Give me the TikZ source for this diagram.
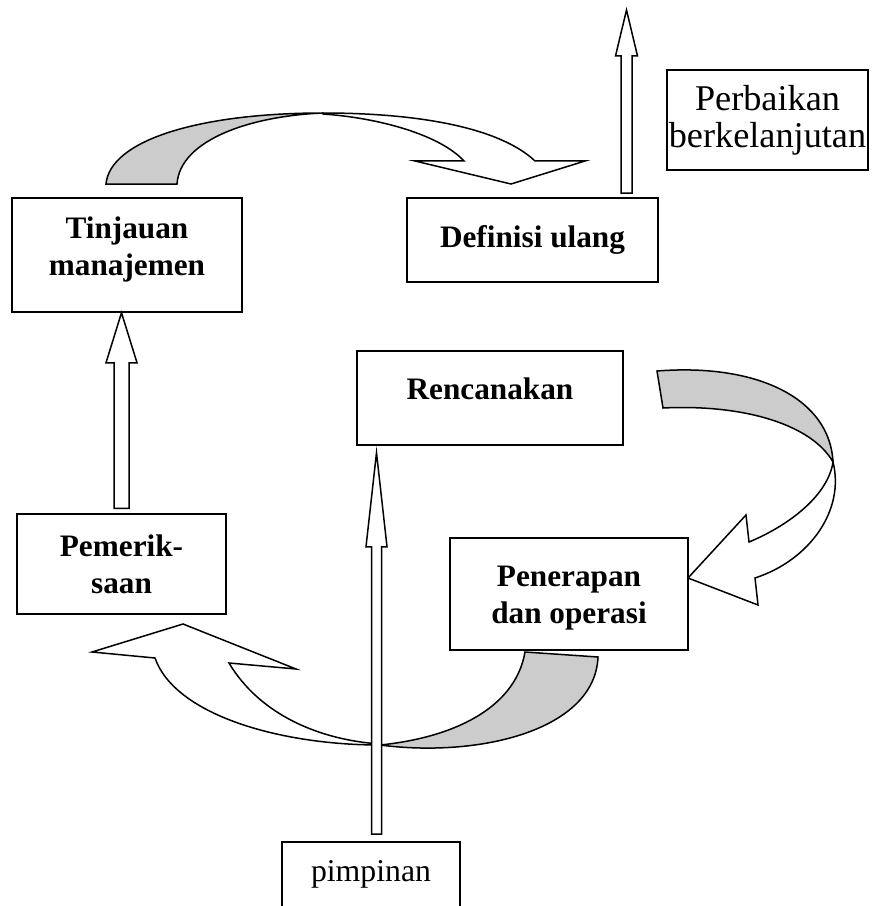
\documentclass[tikz,border=0pt]{standalone}
\usepackage{fontspec}
\setmainfont{Liberation Serif}
\usetikzlibrary{calc}
\definecolor{ribbon}{RGB}{204,204,204}
\begin{document}
\begin{tikzpicture}[x=0.4pt,y=-0.4pt, line width=0.6pt,
  box/.style={draw, rectangle, inner sep=0pt},
  bt/.style={font=\bfseries\fontsize{12.5}{14.8}\selectfont, align=center},
  rt/.style={font=\fontsize{14.5}{14.8}\selectfont, align=center},
  blk/.style={draw, fill=white, line join=miter},
  rib/.style={draw, fill=ribbon, line join=miter},
  ribw/.style={draw, fill=white, line join=miter}]
\useasboundingbox (0,0) rectangle (875,906);
\clip (0,0) rectangle (875,906);

% top curved arrow
\path[ribw] (323,113) .. controls (420,113) and (500,128) .. (535,161) -- (585,161) -- (511,184) -- (415,161) -- (464,161)
   .. controls (440,135) and (380,118) .. (323,114) -- cycle;
\path[rib] (106,184) .. controls (110,140) and (200,113) .. (323,113)
   .. controls (250,116) and (180,140) .. (177,184) -- cycle;

% right curved arrow
\path[ribw] (833,462) .. controls (845,510) and (810,560) .. (755,578) -- (758,605) -- (688,578) -- (746,515) -- (749,542)
   .. controls (790,525) and (828,495) .. (833,462) -- cycle;
\path[rib] (657,371) .. controls (760,363) and (830,400) .. (833,462)
   .. controls (812,425) and (745,404) .. (663,408) -- cycle;

% bottom curved arrow
\path[ribw] (380,745) .. controls (280,745) and (175,715) .. (155,658) -- (92,652) -- (183,624) -- (296,669) -- (229,663)
   .. controls (260,715) and (320,740) .. (380,744) -- cycle;
\path[rib] (525,652) -- (598,657) .. controls (595,730) and (480,758) .. (380,745)
   .. controls (450,738) and (515,710) .. (525,652) -- cycle;

% boxes
\node[box, minimum width=92pt, minimum height=45.6pt] (tin) at (127,255) {};
\node[bt] (tintx) at (127,249.5) {Tinjauan\\manajemen};
\node[box, bt, minimum width=100.4pt, minimum height=33.6pt] (def) at (532.5,240) {Definisi ulang};
\node[box, rt, minimum width=80.4pt, minimum height=40pt] (per) at (767.5,120) {Perbaikan\\berkelanjutan};
\node[box, minimum width=106.4pt, minimum height=37.6pt] (ren) at (490,398) {};
\node[bt] (rentx) at (490,389) {Rencanakan};
\node[box, bt, minimum width=83.6pt, minimum height=40pt] (pem) at (121.5,564) {Pemerik-\\saan};
\node[box, minimum width=95.2pt, minimum height=44.8pt] (pen) at (569,594) {};
\node[bt] (pentx) at (569,598.5) {Penerapan\\dan operasi};
\node[box, minimum width=71.2pt, minimum height=40pt, anchor=north] (pim) at (371,841) {};
\node[font=\fontsize{12.7}{14}\selectfont] (pimtx) at (371,874.7) {pimpinan};

% block arrows
\coordinate (la) at (pem.north |- tin.south);
\draw[blk] (la) -- ++(15.5,50) -- ++(-8,0) -- ($(pem.north)+(7.5,-5)$) -- ++(-15,0) -- ($(la)+(-7.5,50)$) -- ++(-8,0) -- cycle;

\coordinate (ca) at ($(pim.north)+(5.5,0)$);
\coordinate (ct) at ($(ca |- ren.south)+(0,7)$);
\draw[blk] (ct) -- ++(10.5,94) -- ++(-5.5,0) -- ($(ca)+(5,-7)$) -- ++(-10,0) -- ($(ct)+(-5,94)$) -- ++(-5.5,0) -- cycle;

\coordinate (ra) at ($(def.north)+(94,-4)$);
\coordinate (rtip) at (626.5,10);
\draw[blk] (rtip) -- ++(11,46) -- ++(-5.5,0) -- ($(ra)+(5.5,0)$) -- ++(-11,0) -- ($(rtip)+(-5.5,46)$) -- ++(-5.5,0) -- cycle;
\end{tikzpicture}
\end{document}
